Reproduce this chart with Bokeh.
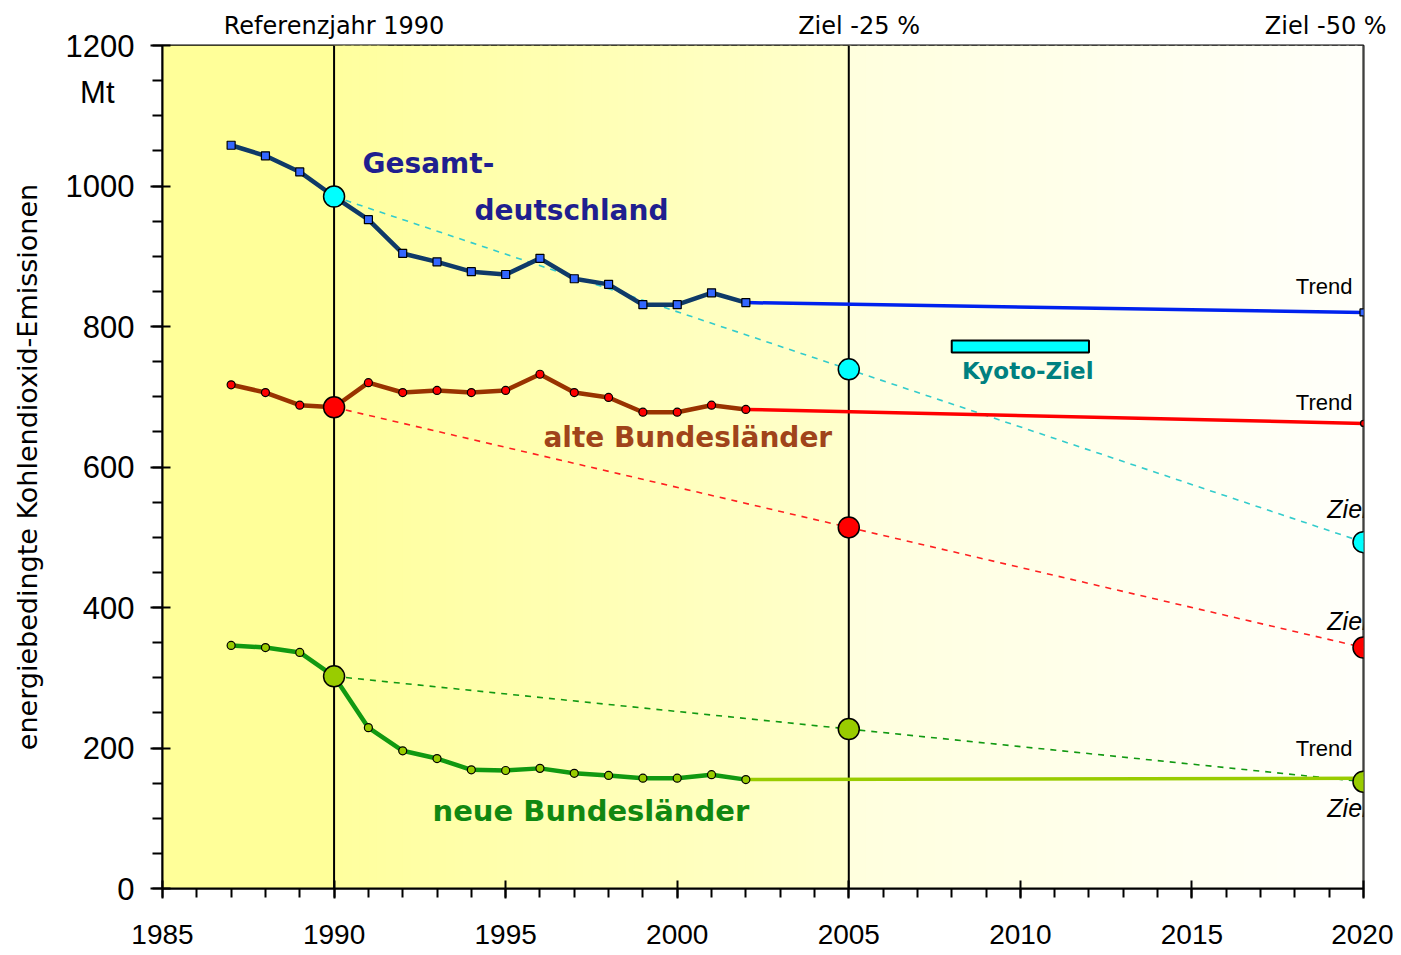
import numpy as np
from bokeh.plotting import figure
from bokeh.models import Range1d, FixedTicker, LinearAxis
from bokeh.core.properties import value
from bokeh.embed import file_html
from bokeh.resources import INLINE

# ---------------- data ----------------
years = list(range(1987, 2003))
gesamt = [1058, 1043, 1020, 985, 952, 904, 892, 878, 874, 897, 868, 860, 831, 831, 848, 834]
alte = [717, 706, 688, 685, 720, 706, 709, 706, 709, 732, 706, 699, 678, 678, 688, 682]
neue = [346, 343, 336, 302, 229, 196, 185, 169, 168, 171, 164, 161, 157, 157, 162, 155]

trend_years = [2002, 2020]
gesamt_trend = [834, 820]
alte_trend = [682, 662]
neue_trend = [155, 157]

target_years = [1990, 2005, 2020]
gesamt_target = [985, 739, 493]
alte_target = [685, 514, 343]
neue_target = [302, 227, 152]

kyoto_years = [2008, 2012]
kyoto_range = [763, 780]

ref_lines = [1990, 2005, 2020]
top_label_pos = [1990, 2005.3, 2018.9]
top_labels = ["Referenzjahr 1990", "Ziel -25 %", "Ziel -50 %"]
unit_pos = [1133]
unit_label = ["Mt"]
x_ticks = list(range(1985, 2021, 5))
x_minor = list(range(1985, 2021))
y_ticks = list(range(0, 1201, 200))
y_minor = list(range(0, 1201, 50))

# ---------------- figure ----------------
p = figure(width=1393, height=955, x_range=Range1d(1985, 2020), y_range=Range1d(0, 1200),
           output_backend="svg", toolbar_location=None,
           min_border_left=162, min_border_right=30, min_border_top=45, min_border_bottom=67)
p.background_fill_color = "white"
p.border_fill_color = "white"
p.grid.visible = False
p.outline_line_color = "black"
p.outline_line_width = 2


def band(x0, x1, c0, c1, n=60):
    edges = np.linspace(x0, x1, n + 1)
    cols = []
    for i in range(n):
        t = i / max(n - 1, 1)
        cols.append("#%02x%02x%02x" % tuple(int(round(a + (b - a) * t)) for a, b in zip(c0, c1)))
    p.quad(left=edges[:-1], right=edges[1:] + (x1 - x0) / n * 0.3, bottom=0, top=1200,
           fill_color=cols, line_color=None, level="underlay")


band(1985, 1990, (255, 255, 153), (255, 255, 153), n=1)
band(1990, 2005, (255, 255, 158), (255, 255, 204))
band(2005, 2020, (255, 255, 222), (255, 255, 250))

# axes
for ax in (p.xaxis[0], p.yaxis[0]):
    ax.axis_line_color = "black"
    ax.axis_line_width = 2
    ax.major_tick_line_color = "black"
    ax.major_tick_line_width = 2
    ax.minor_tick_line_color = "black"
    ax.minor_tick_line_width = 2
    ax.major_label_text_font = "Liberation Sans"
    ax.major_label_text_color = "black"

p.xaxis.ticker = FixedTicker(ticks=x_ticks, minor_ticks=x_minor)
p.xaxis.major_label_text_font_size = "28px"
p.xaxis.major_tick_in = 8
p.xaxis.major_tick_out = 10
p.xaxis.minor_tick_in = 0
p.xaxis.minor_tick_out = 9
p.xaxis.major_label_standoff = 26

p.yaxis.ticker = FixedTicker(ticks=y_ticks, minor_ticks=y_minor)
p.yaxis.major_label_text_font_size = "31px"
p.yaxis.major_tick_in = 8
p.yaxis.major_tick_out = 12
p.yaxis.minor_tick_in = 0
p.yaxis.minor_tick_out = 10
p.yaxis.major_label_standoff = 16

# outer left axis: carries the unit "Mt" (pulled under the 1200 label) and the axis title
unit_axis = LinearAxis(ticker=FixedTicker(ticks=unit_pos, minor_ticks=[]),
                       major_label_overrides={k: v for k, v in zip(unit_pos, unit_label)},
                       axis_line_color=None, major_tick_line_color=None, minor_tick_line_color=None,
                       major_tick_in=0, major_tick_out=0, minor_tick_in=0, minor_tick_out=0,
                       major_label_standoff=-52, major_label_text_font="Liberation Sans",
                       major_label_text_font_size="31px", major_label_text_color="black",
                       axis_label="energiebedingte Kohlendioxid-Emissionen",
                       axis_label_text_font="DejaVu Sans", axis_label_text_font_size="27px",
                       axis_label_text_font_style="normal", axis_label_text_color="black",
                       axis_label_standoff=34)
p.add_layout(unit_axis, "left")

# top labels as an axis above the frame
top_axis = LinearAxis(ticker=FixedTicker(ticks=top_label_pos, minor_ticks=[]),
                      major_label_overrides={k: v for k, v in zip(top_label_pos, top_labels)},
                      axis_line_color=None, major_tick_line_color=None, minor_tick_line_color=None,
                      major_tick_in=0, major_tick_out=0, minor_tick_in=0, minor_tick_out=0,
                      major_label_standoff=6, major_label_text_font="DejaVu Sans",
                      major_label_text_font_size="24px", major_label_text_color="black")
p.add_layout(top_axis, "above")

# vertical reference lines
p.segment(x0=ref_lines, y0=0, x1=ref_lines, y1=1200, line_color="black", line_width=2)

# Kyoto bar
p.quad(left=[kyoto_years[0]], right=[kyoto_years[1]], bottom=[kyoto_range[0]], top=[kyoto_range[1]],
       fill_color="#00FFFF", line_color="black", line_width=2)

# target dashed lines
p.line(target_years, gesamt_target, line_color="#33CCCC", line_width=1.6, line_dash="6 6")
p.line(target_years, alte_target, line_color="#FF2020", line_width=1.6, line_dash="6 6")
p.line(target_years, neue_target, line_color="#119911", line_width=1.6, line_dash="6 6")

# trend lines
p.line(trend_years, gesamt_trend, line_color="#0022EE", line_width=3.5)
p.line(trend_years, alte_trend, line_color="#FF0000", line_width=3.5)
p.line(trend_years, neue_trend, line_color="#99CC00", line_width=3.5)

# data lines
p.line(years, gesamt, line_color="#0F3A68", line_width=4.5)
p.line(years, alte, line_color="#993300", line_width=4.5)
p.line(years, neue, line_color="#119911", line_width=4.5)

p.scatter(years, gesamt, marker="square", size=8, fill_color="#3366FF", line_color="black", line_width=1.2)
p.scatter(years, alte, marker="circle", size=8, fill_color="#FF0000", line_color="black", line_width=1.2)
p.scatter(years, neue, marker="circle", size=8, fill_color="#99CC00", line_color="black", line_width=1.2)

# trend end markers
p.scatter([trend_years[-1]], [gesamt_trend[-1]], marker="square", size=7, fill_color="#3366FF",
          line_color="black", line_width=1.2)
p.scatter([trend_years[-1]], [alte_trend[-1]], marker="circle", size=6, fill_color="#FF0000",
          line_color="black", line_width=1.2)

# target circles
p.scatter(target_years, gesamt_target, marker="circle", size=21, fill_color="#00FFFF", line_color="black", line_width=1.5)
p.scatter(target_years, alte_target, marker="circle", size=21, fill_color="#FF0000", line_color="black", line_width=1.5)
p.scatter(target_years, neue_target, marker="circle", size=21, fill_color="#99CC00", line_color="black", line_width=1.5)

# series labels
bold = value("DejaVu Sans")
p.text(x=[1990.83], y=[1032], text=["Gesamt-"], text_font=bold, text_font_style="bold",
       text_font_size="28px", text_color="#1F1F8F", text_baseline="middle", text_align="left")
p.text(x=[1994.09], y=[965], text=["deutschland"], text_font=bold, text_font_style="bold",
       text_font_size="28px", text_color="#1F1F8F", text_baseline="middle", text_align="left")
p.text(x=[1996.1], y=[642], text=["alte Bundesländer"], text_font=bold, text_font_style="bold",
       text_font_size="28px", text_color="#A0441A", text_baseline="middle", text_align="left")
p.text(x=[1992.87], y=[111], text=["neue Bundesländer"], text_font=bold, text_font_style="bold",
       text_font_size="29px", text_color="#118811", text_baseline="middle", text_align="left")
p.text(x=[2008.3], y=[736], text=["Kyoto-Ziel"], text_font=bold, text_font_style="bold",
       text_font_size="23px", text_color="#008080", text_baseline="middle", text_align="left")

# Trend / Ziel labels
p.text(x=[2019.68] * 3, y=[857, 692, 199], text=["Trend"] * 3, text_font=value("Liberation Sans"),
       text_font_size="22px", text_color="black", text_baseline="middle", text_align="right")
p.text(x=[2020.12] * 3, y=[540, 381, 114], text=["Ziel"] * 3, text_font=value("Liberation Sans"),
       text_font_style="italic", text_font_size="25px", text_color="black",
       text_baseline="middle", text_align="right")

open("out.html", "w").write(file_html(p, INLINE))
